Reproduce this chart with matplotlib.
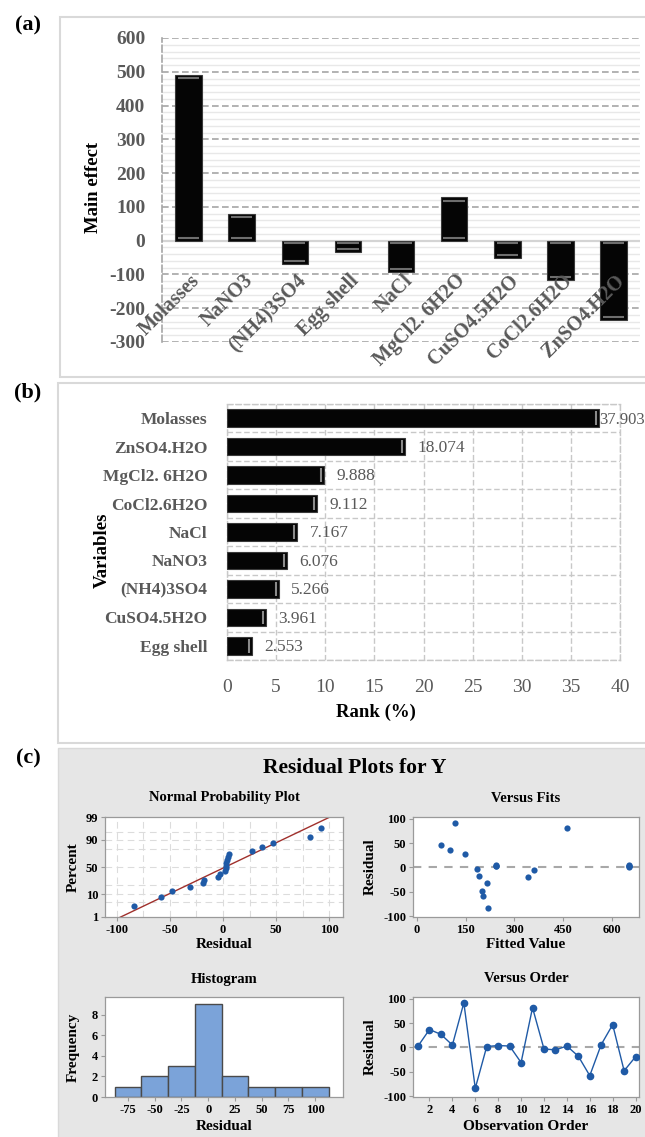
import matplotlib
matplotlib.use('Agg')
import matplotlib.pyplot as plt
import numpy as np
from statistics import NormalDist
from matplotlib.patches import Rectangle

# ---------------- data ----------------
effect_labels = ['Molasses', 'NaNO3', '(NH4)3SO4', 'Egg shell', 'NaCl',
                 'MgCl2. 6H2O', 'CuSO4.5H2O', 'CoCl2.6H2O', 'ZnSO4.H2O']
main_effects = [490.0, 78.6, -68.1, -33.0, -92.7, 127.8, -51.2, -117.8, -233.7]

rank_labels = ['Molasses', 'ZnSO4.H2O', 'MgCl2. 6H2O', 'CoCl2.6H2O', 'NaCl',
               'NaNO3', '(NH4)3SO4', 'CuSO4.5H2O', 'Egg shell']
rank_values = [37.903, 18.074, 9.888, 9.112, 7.167, 6.076, 5.266, 3.961, 2.553]

residuals = [3, 37, 27, 5, 92, -84, 2, 4, 3, -31, 82, -3, -5, 3, -18, -58, 6, 47, -48, -19]
fitted = [651, 102, 149, 651, 118, 219, 651, 242, 651, 216, 461, 184, 359, 242, 191, 204, 242, 73, 200, 341]
observation = list(range(1, 21))

prob_ticks = [1, 10, 50, 90, 99]
prob_grid = [5, 10, 20, 50, 80, 90, 95]
hist_edges = [-87.5, -62.5, -37.5, -12.5, 12.5, 37.5, 62.5, 87.5, 112.5]

# ---------------- setup ----------------
W, H = 645, 1137
plt.rcParams['font.family'] = ['Liberation Serif', 'DejaVu Serif']
plt.rcParams['axes.unicode_minus'] = False
fig = plt.figure(figsize=(W / 100, H / 100), dpi=100)
fig.patch.set_facecolor('white')

def box(l, t, r, b):
    return [l / W, 1 - b / H, (r - l) / W, (b - t) / H]

def ftxt(x, y, s, **kw):
    fig.text(x / W, 1 - y / H, s, **kw)

def frect(l, t, r, b, **kw):
    fig.patches.append(Rectangle((l / W, 1 - b / H), (r - l) / W, (b - t) / H,
                                 transform=fig.transFigure, **kw))

GRAY_TXT = '#595959'
BLUE = '#1F5AA6'

# panel frames
frect(60, 17, 700, 377, facecolor='white', edgecolor='#d9d9d9', lw=1.5, zorder=-10)
frect(58, 383, 700, 743, facecolor='white', edgecolor='#d9d9d9', lw=1.5, zorder=-10)
frect(58, 748, 700, 1160, facecolor='#e6e6e6', edgecolor='#d9d9d9', lw=1.0, zorder=-10)

ftxt(28, 25, '(a)', fontsize=16, fontweight='bold', ha='center', va='center')
ftxt(28, 392, '(b)', fontsize=16, fontweight='bold', ha='center', va='center')
ftxt(28, 758, '(c)', fontsize=16, fontweight='bold', ha='center', va='center')

# ---------------- panel (a) ----------------
axA = fig.add_axes(box(162, 38, 640, 342))
axA.set_facecolor('none')
xa = np.arange(len(effect_labels))
axA.bar(xa, main_effects, width=0.5, color='#050505', edgecolor='#3a3a3a', lw=0.8, zorder=3)
for xi, v in zip(xa, main_effects):
    s = np.sign(v)
    axA.hlines([v - s * 9, s * 7], xi - 0.2, xi + 0.2, color='#6e6e6e', lw=1.5, zorder=4)
axA.set_xlim(-0.5, 8.5)
axA.set_ylim(-300, 600)
axA.set_yticks(np.arange(-300, 601, 100))
axA.set_yticks([v for v in range(-300, 601, 20) if v % 100], minor=True)
axA.grid(which='minor', axis='y', color='#e8e8e8', lw=1.0, ls='-', zorder=0)
axA.grid(which='major', axis='y', color='#a6a6a6', lw=1.2, ls=(0, (4, 2)), zorder=1)
axA.axhline(0, color='#d4d4d4', lw=1.6, zorder=2)
axA.set_axisbelow(True)
for sp in ['top', 'right', 'bottom']:
    axA.spines[sp].set_visible(False)
axA.spines['left'].set_color('#a6a6a6')
axA.spines['left'].set_linestyle((0, (4, 2)))
axA.spines['left'].set_linewidth(1.2)
axA.set_xticks([])
axA.tick_params(axis='y', which='both', length=0, labelsize=14, labelcolor=GRAY_TXT, pad=12)
for lab in axA.get_yticklabels():
    lab.set_fontweight('bold')
for xi, lab in zip(xa, effect_labels):
    axA.text(xi + 0.16, -110, lab, rotation=45, rotation_mode='anchor', ha='right', va='center',
             fontsize=14.5, fontweight='bold', color=GRAY_TXT, zorder=5)
ftxt(93, 187, 'Main effect', rotation=90, fontsize=13.5, fontweight='bold', ha='center', va='center')

# ---------------- panel (b) ----------------
axB = fig.add_axes(box(227, 404, 620, 660))
yb = np.arange(len(rank_labels))
axB.barh(yb, rank_values, height=0.62, color='#050505', edgecolor='#3a3a3a', lw=0.8, zorder=3)
for yi, v in zip(yb, rank_values):
    axB.vlines(v - 0.3, yi - 0.24, yi + 0.24, color='#8a8a8a', lw=1.5, zorder=4)
axB.set_xlim(0, 40)
axB.set_ylim(8.5, -0.5)
axB.set_xticks(range(0, 41, 5))
axB.set_yticks(yb)
axB.set_yticklabels(rank_labels)
axB.set_yticks(np.arange(-0.5, 9, 1), minor=True)
axB.grid(which='major', axis='x', color='#c8c8c8', lw=1.0, ls=(0, (4, 2)), zorder=0)
axB.grid(which='minor', axis='y', color='#c8c8c8', lw=1.0, ls=(0, (4, 2)), zorder=0)
axB.set_axisbelow(True)
for sp in axB.spines.values():
    sp.set_color('#c8c8c8')
    sp.set_linestyle((0, (4, 2)))
    sp.set_linewidth(1.0)
axB.tick_params(axis='both', which='both', length=0)
axB.tick_params(axis='y', labelsize=12.5, labelcolor=GRAY_TXT, pad=14)
axB.tick_params(axis='x', labelsize=14, labelcolor=GRAY_TXT, pad=14)
for lab in axB.get_yticklabels():
    lab.set_fontweight('bold')
vmax = max(rank_values)
for yi, v in zip(yb, rank_values):
    off = 0 if v == vmax else 9
    axB.annotate(f'{v:.3f}', (v, yi), xytext=(off, -1), textcoords='offset points',
                 ha='left', va='center', fontsize=12 if v == vmax else 12.5,
                 color=GRAY_TXT, annotation_clip=False)
ftxt(102, 550, 'Variables', rotation=90, fontsize=13.5, fontweight='bold', ha='center', va='center')
ftxt(376, 712, 'Rank (%)', fontsize=13.5, fontweight='bold', ha='center', va='center')

# ---------------- panel (c) ----------------
ftxt(355, 768, 'Residual Plots for Y', fontsize=15.5, fontweight='bold', ha='center', va='center')

def style_c(ax):
    ax.set_facecolor('white')
    for sp in ax.spines.values():
        sp.set_color('#9a9a9a')
        sp.set_linewidth(0.9)
    ax.tick_params(axis='both', direction='out', length=3, width=0.8, color='#9a9a9a',
                   labelsize=9, pad=2)
    for lab in ax.get_xticklabels() + ax.get_yticklabels():
        lab.set_fontweight('bold')

nd = NormalDist()
n = len(residuals)
sr = np.sort(residuals)
pz = [nd.inv_cdf((i + 1 - 0.3) / (n + 0.4)) for i in range(n)]
mu = float(np.mean(residuals))
sd = float(np.std(residuals, ddof=1))

# Normal probability plot
axN = fig.add_axes(box(105, 817, 343, 917))
zlo, zhi = nd.inv_cdf(0.01), nd.inv_cdf(0.99)
for p in prob_grid:
    axN.axhline(nd.inv_cdf(p / 100), color='#dcdcdc', lw=0.8, ls=(0, (6, 4)), zorder=0)
for v in np.arange(-100, 101, 25):
    axN.axvline(v, color='#dcdcdc', lw=0.8, ls=(0, (6, 4)), zorder=0)
zl = np.array([zlo - 0.2, zhi + 0.2])
axN.plot(mu + sd * zl, zl, color='#A0302C', lw=1.0, zorder=2)
axN.scatter(sr, pz, s=20, color=BLUE, zorder=3, linewidths=0)
axN.set_xlim(-111, 113)
axN.set_ylim(zlo - 0.005, zhi + 0.005)
axN.set_xticks([-100, -50, 0, 50, 100])
axN.set_yticks([nd.inv_cdf(p / 100) for p in prob_ticks])
axN.set_yticklabels([str(p) for p in prob_ticks])
style_c(axN)

# Versus fits
axF = fig.add_axes(box(413, 817, 639, 917))
axF.axhline(0, color='#a8a8a8', lw=1.5, ls=(0, (4, 3.5)), zorder=1)
axF.scatter(fitted, residuals, s=20, color=BLUE, zorder=3, linewidths=0)
axF.set_xlim(-12, 683)
axF.set_ylim(-102, 104)
axF.set_xticks([0, 150, 300, 450, 600])
axF.set_yticks([-100, -50, 0, 50, 100])
style_c(axF)

# Histogram
axH = fig.add_axes(box(105, 997, 343, 1097))
axH.hist(residuals, bins=hist_edges, color='#7BA3D9', edgecolor='#4a4a4a', lw=1.0, zorder=2)
axH.set_xlim(-96.5, 126)
axH.set_ylim(0, 9.7)
axH.set_xticks(np.arange(-75, 101, 25))
axH.set_yticks([0, 2, 4, 6, 8])
style_c(axH)

# Versus order
axO = fig.add_axes(box(413, 997, 639, 1097))
axO.axhline(0, color='#a8a8a8', lw=1.5, ls=(0, (4, 3.5)), zorder=1)
axO.plot(observation, residuals, color=BLUE, lw=1.0, marker='o', ms=4.5, mec=BLUE, zorder=3)
axO.set_xlim(0.56, 20.3)
axO.set_ylim(-102, 104)
axO.set_xticks(range(2, 21, 2))
axO.set_yticks([-100, -50, 0, 50, 100])
style_c(axO)

# subplot titles and labels
for x, y, s in [(224, 798, 'Normal Probability Plot'), (526, 798, 'Versus Fits'),
                (224, 979, 'Histogram'), (526, 979, 'Versus Order')]:
    ftxt(x, y, s, fontsize=10.5, fontweight='bold', ha='center', va='center')
for x, y, s in [(224, 945, 'Residual'), (526, 945, 'Fitted Value'),
                (224, 1126, 'Residual'), (526, 1126, 'Observation Order')]:
    ftxt(x, y, s, fontsize=11, fontweight='bold', ha='center', va='center')
for x, y, s in [(73, 867, 'Percent'), (370, 867, 'Residual'),
                (73, 1047, 'Frequency'), (370, 1047, 'Residual')]:
    ftxt(x, y, s, fontsize=11, fontweight='bold', ha='center', va='center', rotation=90)

fig.savefig('out.png', dpi=100, facecolor='white')
